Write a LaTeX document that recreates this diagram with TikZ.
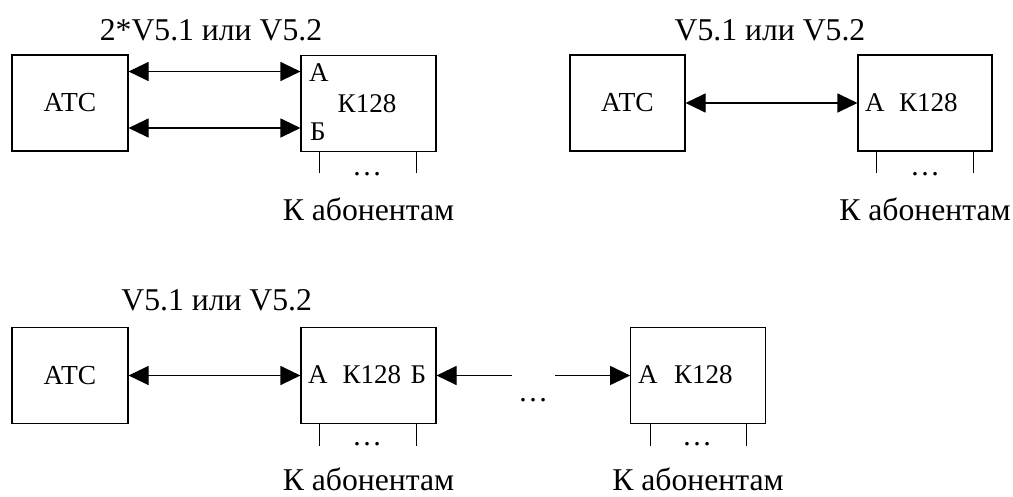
\documentclass[tikz,border=0pt]{standalone}
\usepackage{fontspec}
\setmainfont{Liberation Serif}
\usetikzlibrary{arrows.meta}
\begin{document}
\begin{tikzpicture}[x=1pt,y=-1pt,
  box/.style={draw,line width=1.1pt,inner sep=0pt,minimum width=#1,minimum height=96pt,font=\fontsize{27.5}{32}\selectfont},
  lbl/.style={inner sep=0pt,font=\fontsize{27}{32}\selectfont},
  title/.style={inner sep=0pt,anchor=base,font=\fontsize{31.7}{36}\selectfont},
  dotsn/.style={inner sep=0pt,anchor=base,font=\fontsize{30}{36}\selectfont},
  tipA/.tip={Triangle[length=20pt,width=19pt]},
  biarrow/.style={tipA-tipA,line width=1.1pt},
  onearrow/.style={-tipA,line width=1.1pt},
  leg/.style={line width=1.1pt}]
\useasboundingbox (0,0) rectangle (1013,496);

% ---- first scheme
\node[box=116pt] (atc1) at (70,103) {АТС};
\node[box=135pt] (k1) at (368.5,103.5) {};
\node[lbl,anchor=base west] (k1a) at (309,81.7) {А};
\node[lbl,anchor=base west] (k1b) at (310,140) {Б};
\node[lbl,anchor=base] (k1n) at (367,112) {К128};
\node[title] (t1) at (211,40) {2*V5.1 или V5.2};
\draw[biarrow] ([yshift=31.5pt]atc1.east) -- ([yshift=31.5pt]atc1.east -| k1.west);
\draw[biarrow] ([yshift=-25pt]atc1.east) -- ([yshift=-25pt]atc1.east -| k1.west);
\draw[leg] ([xshift=19pt]k1.south west) -- ++(0,21);
\draw[leg] ([xshift=-20pt]k1.south east) -- ++(0,21);
\node[dotsn] (d1) at (367,175) {…};
\node[title] (s1) at (368.5,220) {К абонентам};

% ---- second scheme
\node[box=115pt] (atc2) at (627.5,103) {АТС};
\node[box=134pt] (k2) at (925,103) {};
\node[lbl,anchor=base west] (k2a) at (865,111.7) {А};
\node[lbl,anchor=base west] (k2n) at (899,111.7) {К128};
\node[title] (t2) at (770,40) {V5.1 или V5.2};
\draw[biarrow] (atc2.east) -- (k2.west);
\draw[leg] ([xshift=19pt]k2.south west) -- ++(0,21);
\draw[leg] ([xshift=-19pt]k2.south east) -- ++(0,21);
\node[dotsn] (d2) at (925,175) {…};
\node[title] (s2) at (925,220) {К абонентам};

% ---- third scheme
\node[box=116pt] (atc3) at (70,375.5) {АТС};
\node[box=135pt] (k3) at (368.5,375.5) {};
\node[box=135pt] (k4) at (698.2,375.5) {};
\node[lbl,anchor=base west] (k3a) at (308,383.5) {А};
\node[lbl,anchor=base west] (k3n) at (342.5,383.5) {К128};
\node[lbl,anchor=base west] (k3b) at (410.5,383.5) {Б};
\node[lbl,anchor=base west] (k4a) at (638,383.5) {А};
\node[lbl,anchor=base west] (k4n) at (674,383.5) {К128};
\node[title] (t3) at (216.7,310) {V5.1 или V5.2};
\draw[biarrow] (atc3.east) -- (k3.west);
\coordinate (g1) at (511.7,375.5);
\coordinate (g2) at (555,375.5);
\draw[onearrow] (g1) -- (k3.east);
\draw[onearrow] (g2) -- (k4.west);
\node[dotsn] (dm) at (533,401.7) {…};
\draw[leg] ([xshift=19pt]k3.south west) -- ++(0,22);
\draw[leg] ([xshift=-20pt]k3.south east) -- ++(0,22);
\draw[leg] ([xshift=20pt]k4.south west) -- ++(0,22);
\draw[leg] ([xshift=-20pt]k4.south east) -- ++(0,22);
\node[dotsn] (d3) at (367,445) {…};
\node[dotsn] (d4) at (697,445) {…};
\node[title] (s3) at (368.5,490.5) {К абонентам};
\node[title] (s4) at (698,490.5) {К абонентам};
\end{tikzpicture}
\end{document}
